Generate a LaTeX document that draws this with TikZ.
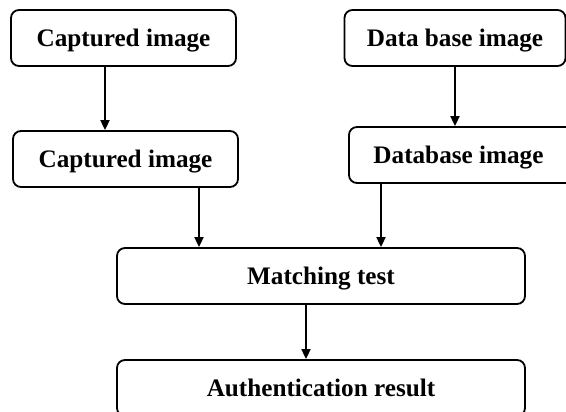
\documentclass[tikz,border=0pt]{standalone}
\usepackage{fontspec}
\setmainfont{Liberation Serif}
\usetikzlibrary{arrows.meta}
\begin{document}
\begin{tikzpicture}[x=1pt,y=-1pt,
  box/.style={draw=black,line width=1.8pt,rounded corners=8pt,inner sep=0pt,
    minimum height=56pt,font=\fontsize{25.2}{28}\selectfont\bfseries,
    text height=16.6pt,text depth=0pt,anchor=center},
  arr/.style={line width=1.8pt,-{Triangle[width=9pt,length=10pt]}}]
\useasboundingbox (0,0) rectangle (566,412);
\node[box,minimum width=225pt] (b1) at (123.5,38) {Captured image};
\node[box,minimum width=225pt] (b2) at (125.5,159) {Captured image};
\node[box,minimum width=221pt] (b3) at (455,38) {Data base image};
\node[box,minimum width=226pt] (b4) at (462,155) {\hspace*{-7pt}Database image};
\node[box,minimum width=408pt] (m) at (321,276) {Matching test};
\node[box,minimum width=408pt] (r) at (321,388) {Authentication result};
\coordinate (x1) at (105,0);
\coordinate (x2) at (455,0);
\coordinate (x3) at (199,0);
\coordinate (x4) at (381,0);
\coordinate (x5) at (306,0);
\draw[arr] (b1.south -| x1) -- (b2.north -| x1);
\draw[arr] (b3.south -| x2) -- (b4.north -| x2);
\draw[arr] (b2.south -| x3) -- (m.north -| x3);
\draw[arr] (b4.south -| x4) -- (m.north -| x4);
\draw[arr] (m.south -| x5) -- (r.north -| x5);
\end{tikzpicture}
\end{document}
